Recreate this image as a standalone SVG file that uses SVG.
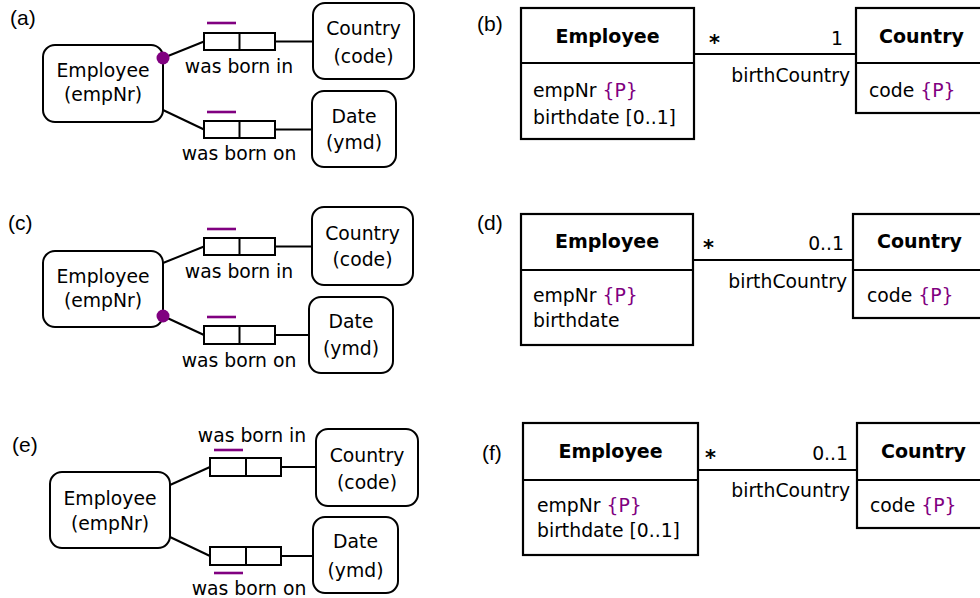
<svg xmlns="http://www.w3.org/2000/svg" width="980" height="598" viewBox="0 0 980 598">
  <style>
    .bg { fill: #ffffff; }
    .ent { fill: #ffffff; stroke: #000000; stroke-width: 2; }
    .role { fill: #ffffff; stroke: #000000; stroke-width: 2; }
    .cls { fill: #ffffff; stroke: #000000; stroke-width: 2.2; }
    .ln { stroke: #000000; stroke-width: 2; fill: none; }
    .uc { stroke: #800080; stroke-width: 2.6; fill: none; }
    .dot { fill: #800080; }
    .lbl { font-family: "Liberation Sans", Arial, sans-serif; font-size: 21px; fill: #000000; }
    .t { font-family: "DejaVu Sans", Verdana, sans-serif; font-size: 18.8px; fill: #000000; }
    .c { text-anchor: middle; }
    .e { text-anchor: end; }
    .b { font-family: "DejaVu Sans", Verdana, sans-serif; font-size: 19px; font-weight: bold; fill: #000000; }
    .star { font-family: "DejaVu Sans", Verdana, sans-serif; font-size: 21px; font-weight: bold; fill: #000000; }
    .p { fill: #800080; }
  </style>
  <rect class="bg" x="0" y="0" width="980" height="598"/>

  <!-- panel labels -->
  <g id="labels">
    <text class="lbl" x="10" y="25">(a)</text>
    <text class="lbl" x="477" y="31">(b)</text>
    <text class="lbl" x="8" y="230">(c)</text>
    <text class="lbl" x="477" y="230">(d)</text>
    <text class="lbl" x="12" y="452">(e)</text>
    <text class="lbl" x="482" y="460">(f)</text>
  </g>

  <!-- connectors -->
  <g id="connectors">
    <!-- (a) -->
    <line class="ln" x1="163" y1="58" x2="204" y2="41.5"/>
    <line class="ln" x1="275" y1="41.5" x2="313" y2="41.5"/>
    <line class="ln" x1="163" y1="110" x2="204" y2="129.5"/>
    <line class="ln" x1="275" y1="129.5" x2="312" y2="129.5"/>
    <!-- (c) -->
    <line class="ln" x1="163" y1="263" x2="204" y2="246.5"/>
    <line class="ln" x1="275" y1="246.5" x2="312" y2="246.5"/>
    <line class="ln" x1="163" y1="316" x2="204" y2="335"/>
    <line class="ln" x1="275" y1="335" x2="309" y2="335"/>
    <!-- (e) -->
    <line class="ln" x1="170" y1="485" x2="210" y2="467"/>
    <line class="ln" x1="281" y1="467" x2="316" y2="467"/>
    <line class="ln" x1="170" y1="537" x2="210" y2="556"/>
    <line class="ln" x1="281" y1="556" x2="313" y2="556"/>
    <!-- (b) -->
    <line class="ln" x1="694" y1="54" x2="856" y2="54"/>
    <!-- (d) -->
    <line class="ln" x1="693" y1="260" x2="853" y2="260"/>
    <!-- (f) -->
    <line class="ln" x1="698" y1="470" x2="857" y2="470"/>
  </g>

  <!-- (a) ORM schema -->
  <g id="a-employee">
    <rect class="ent" x="43" y="45" width="120" height="77" rx="12"/>
    <text class="t c" x="103" y="77">Employee</text>
    <text class="t c" x="103" y="101">(empNr)</text>
  </g>
  <g id="a-country">
    <rect class="ent" x="313" y="3" width="101" height="76" rx="12"/>
    <text class="t c" x="363.5" y="35">Country</text>
    <text class="t c" x="363.5" y="63">(code)</text>
  </g>
  <g id="a-date">
    <rect class="ent" x="312" y="91" width="84" height="76" rx="12"/>
    <text class="t c" x="354" y="123">Date</text>
    <text class="t c" x="354" y="149">(ymd)</text>
  </g>
  <g id="a-bornin">
    <rect class="role" x="204" y="33" width="71" height="17"/>
    <line class="ln" x1="239.5" y1="33" x2="239.5" y2="50"/>
    <line class="uc" x1="207" y1="23" x2="236" y2="23"/>
    <text class="t c" x="239" y="73">was born in</text>
  </g>
  <g id="a-bornon">
    <rect class="role" x="204" y="121" width="71" height="17"/>
    <line class="ln" x1="239.5" y1="121" x2="239.5" y2="138"/>
    <line class="uc" x1="207" y1="112" x2="236" y2="112"/>
    <text class="t c" x="239" y="160">was born on</text>
  </g>
  <circle id="a-mandatory" class="dot" cx="163" cy="58" r="6.5"/>

  <!-- (c) ORM schema -->
  <g id="c-employee">
    <rect class="ent" x="43" y="251" width="120" height="76" rx="12"/>
    <text class="t c" x="103" y="283">Employee</text>
    <text class="t c" x="103" y="307">(empNr)</text>
  </g>
  <g id="c-country">
    <rect class="ent" x="312" y="207" width="101" height="78" rx="12"/>
    <text class="t c" x="362.5" y="240">Country</text>
    <text class="t c" x="362.5" y="266">(code)</text>
  </g>
  <g id="c-date">
    <rect class="ent" x="309" y="297" width="84" height="76" rx="12"/>
    <text class="t c" x="351" y="328">Date</text>
    <text class="t c" x="351" y="355">(ymd)</text>
  </g>
  <g id="c-bornin">
    <rect class="role" x="204" y="238" width="71" height="17"/>
    <line class="ln" x1="239.5" y1="238" x2="239.5" y2="255"/>
    <line class="uc" x1="207" y1="229" x2="236" y2="229"/>
    <text class="t c" x="239" y="278">was born in</text>
  </g>
  <g id="c-bornon">
    <rect class="role" x="204" y="326" width="71" height="18"/>
    <line class="ln" x1="239.5" y1="326" x2="239.5" y2="344"/>
    <line class="uc" x1="207" y1="317" x2="236" y2="317"/>
    <text class="t c" x="239" y="367">was born on</text>
  </g>
  <circle id="c-mandatory" class="dot" cx="163" cy="316" r="6.5"/>

  <!-- (e) ORM schema -->
  <g id="e-employee">
    <rect class="ent" x="50" y="472" width="120" height="76" rx="12"/>
    <text class="t c" x="110" y="505">Employee</text>
    <text class="t c" x="110" y="530">(empNr)</text>
  </g>
  <g id="e-country">
    <rect class="ent" x="316" y="429" width="102" height="77" rx="12"/>
    <text class="t c" x="367" y="462">Country</text>
    <text class="t c" x="367" y="489">(code)</text>
  </g>
  <g id="e-date">
    <rect class="ent" x="313" y="517" width="85" height="76" rx="12"/>
    <text class="t c" x="355.5" y="548">Date</text>
    <text class="t c" x="355.5" y="577">(ymd)</text>
  </g>
  <g id="e-bornin">
    <rect class="role" x="210" y="458" width="71" height="18"/>
    <line class="ln" x1="246" y1="458" x2="246" y2="476"/>
    <line class="uc" x1="214" y1="450" x2="243" y2="450"/>
    <text class="t c" x="252" y="442">was born in</text>
  </g>
  <g id="e-bornon">
    <rect class="role" x="210" y="547" width="71" height="18"/>
    <line class="ln" x1="246" y1="547" x2="246" y2="565"/>
    <line class="uc" x1="214" y1="573" x2="243" y2="573"/>
    <text class="t c" x="249" y="595">was born on</text>
  </g>

  <!-- (b) UML class diagram -->
  <g id="b-employee">
    <rect class="cls" x="521" y="8" width="173" height="131"/>
    <line class="ln" x1="521" y1="63" x2="694" y2="63"/>
    <text class="b c" x="607.5" y="43">Employee</text>
    <text class="t" x="533" y="97">empNr <tspan class="p">{P}</tspan></text>
    <text class="t" x="533" y="124">birthdate [0..1]</text>
  </g>
  <g id="b-country">
    <rect class="cls" x="856" y="8" width="140" height="105"/>
    <line class="ln" x1="856" y1="63" x2="996" y2="63"/>
    <text class="b" x="879" y="43">Country</text>
    <text class="t" x="869" y="97">code <tspan class="p">{P}</tspan></text>
  </g>
  <g id="b-assoc">
    <text class="star" x="709" y="50">*</text>
    <text class="t e" x="843" y="45">1</text>
    <text class="t e" x="850" y="82">birthCountry</text>
  </g>

  <!-- (d) UML class diagram -->
  <g id="d-employee">
    <rect class="cls" x="521" y="214" width="172" height="131"/>
    <line class="ln" x1="521" y1="270" x2="693" y2="270"/>
    <text class="b c" x="607" y="248">Employee</text>
    <text class="t" x="533" y="302">empNr <tspan class="p">{P}</tspan></text>
    <text class="t" x="533" y="327">birthdate</text>
  </g>
  <g id="d-country">
    <rect class="cls" x="853" y="214" width="140" height="104"/>
    <line class="ln" x1="853" y1="270" x2="993" y2="270"/>
    <text class="b" x="877" y="248">Country</text>
    <text class="t" x="867" y="302">code <tspan class="p">{P}</tspan></text>
  </g>
  <g id="d-assoc">
    <text class="star" x="703" y="255">*</text>
    <text class="t e" x="844" y="250">0..1</text>
    <text class="t e" x="847" y="288">birthCountry</text>
  </g>

  <!-- (f) UML class diagram -->
  <g id="f-employee">
    <rect class="cls" x="523" y="423" width="175" height="132"/>
    <line class="ln" x1="523" y1="480" x2="698" y2="480"/>
    <text class="b c" x="610.5" y="458">Employee</text>
    <text class="t" x="537" y="512">empNr <tspan class="p">{P}</tspan></text>
    <text class="t" x="537" y="537">birthdate [0..1]</text>
  </g>
  <g id="f-country">
    <rect class="cls" x="857" y="423" width="140" height="105"/>
    <line class="ln" x1="857" y1="480" x2="997" y2="480"/>
    <text class="b" x="881" y="458">Country</text>
    <text class="t" x="870" y="512">code <tspan class="p">{P}</tspan></text>
  </g>
  <g id="f-assoc">
    <text class="star" x="705" y="465">*</text>
    <text class="t e" x="848" y="460">0..1</text>
    <text class="t e" x="850" y="497">birthCountry</text>
  </g>
</svg>
